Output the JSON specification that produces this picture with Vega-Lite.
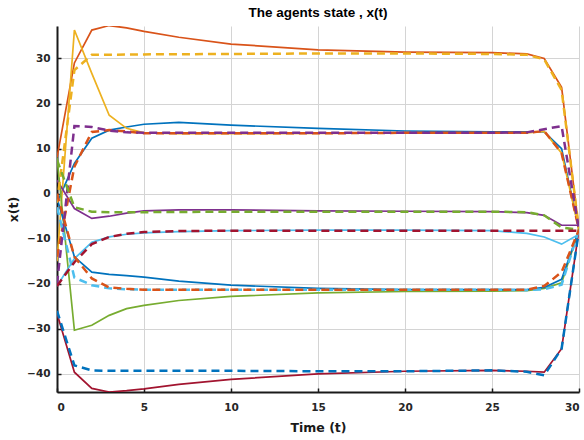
{
  "$schema": "https://vega.github.io/schema/vega-lite/v6.json",
  "width": 522,
  "height": 366,
  "autosize": {"type": "none"},
  "padding": {"left": 57, "top": 26, "right": 5, "bottom": 48},
  "background": "white",
  "title": {"text": "The agents state , x(t)", "fontSize": 13.5, "fontWeight": "bold", "font": "Liberation Sans", "color": "#000000", "offset": 7, "anchor": "middle"},
  "config": {
    "view": {"stroke": null},
    "axis": {"gridColor": "#d4d4d4", "gridWidth": 1, "domainColor": "#1a1a1a", "domainWidth": 2, "tickColor": "#1a1a1a", "tickSize": -4, "tickWidth": 1.5, "labelFont": "DejaVu Sans", "labelFontWeight": "bold", "labelFontSize": 10.5, "labelColor": "#262626", "titleFont": "DejaVu Sans", "titleFontSize": 12.5, "titleFontWeight": "bold", "titleColor": "#1a1a1a"}
  },
  "datasets": {
    "states": [
      {"s":"x1","t":0,"v":-2},{"s":"x1","t":1,"v":6.7},{"s":"x1","t":2,"v":12.3},{"s":"x1","t":3,"v":14.1},{"s":"x1","t":4,"v":14.8},{"s":"x1","t":5,"v":15.4},{"s":"x1","t":7,"v":15.8},{"s":"x1","t":10,"v":15.2},{"s":"x1","t":15,"v":14.5},{"s":"x1","t":20,"v":13.9},{"s":"x1","t":25,"v":13.7},{"s":"x1","t":27,"v":13.7},{"s":"x1","t":28,"v":13.7},{"s":"x1","t":29,"v":10},{"s":"x1","t":30,"v":-8},
      {"s":"x2","t":0,"v":8},{"s":"x2","t":1,"v":29},{"s":"x2","t":2,"v":36.3},{"s":"x2","t":3,"v":37.3},{"s":"x2","t":4,"v":36.8},{"s":"x2","t":5,"v":36},{"s":"x2","t":7,"v":34.7},{"s":"x2","t":10,"v":33.2},{"s":"x2","t":15,"v":31.9},{"s":"x2","t":20,"v":31.4},{"s":"x2","t":25,"v":31.3},{"s":"x2","t":27,"v":31},{"s":"x2","t":28,"v":30},{"s":"x2","t":29,"v":23.6},{"s":"x2","t":30,"v":-8},
      {"s":"x3","t":0,"v":-15},{"s":"x3","t":1,"v":36.3},{"s":"x3","t":2,"v":26.7},{"s":"x3","t":3,"v":17.4},{"s":"x3","t":4,"v":14.5},{"s":"x3","t":5,"v":13.5},{"s":"x3","t":7,"v":13.3},{"s":"x3","t":10,"v":13.3},{"s":"x3","t":15,"v":13.4},{"s":"x3","t":20,"v":13.5},{"s":"x3","t":25,"v":13.5},{"s":"x3","t":27,"v":13.5},{"s":"x3","t":28,"v":13.8},{"s":"x3","t":29,"v":9},{"s":"x3","t":30,"v":-8},
      {"s":"x4","t":0,"v":3},{"s":"x4","t":1,"v":-3.3},{"s":"x4","t":2,"v":-5.5},{"s":"x4","t":3,"v":-5},{"s":"x4","t":4,"v":-4.3},{"s":"x4","t":5,"v":-3.8},{"s":"x4","t":7,"v":-3.6},{"s":"x4","t":10,"v":-3.6},{"s":"x4","t":15,"v":-3.8},{"s":"x4","t":20,"v":-3.9},{"s":"x4","t":25,"v":-4},{"s":"x4","t":27,"v":-4.2},{"s":"x4","t":28,"v":-4.8},{"s":"x4","t":29,"v":-7},{"s":"x4","t":30,"v":-7},
      {"s":"x5","t":0,"v":8},{"s":"x5","t":1,"v":-30.3},{"s":"x5","t":2,"v":-29.2},{"s":"x5","t":3,"v":-27},{"s":"x5","t":4,"v":-25.5},{"s":"x5","t":5,"v":-24.8},{"s":"x5","t":7,"v":-23.7},{"s":"x5","t":10,"v":-22.8},{"s":"x5","t":15,"v":-22},{"s":"x5","t":20,"v":-21.7},{"s":"x5","t":25,"v":-21.6},{"s":"x5","t":27,"v":-21.5},{"s":"x5","t":28,"v":-21},{"s":"x5","t":29,"v":-19.8},{"s":"x5","t":30,"v":-8},
      {"s":"x6","t":0,"v":-20.5},{"s":"x6","t":1,"v":-14.4},{"s":"x6","t":2,"v":-10.8},{"s":"x6","t":3,"v":-9.6},{"s":"x6","t":4,"v":-9},{"s":"x6","t":5,"v":-8.7},{"s":"x6","t":7,"v":-8.4},{"s":"x6","t":10,"v":-8.2},{"s":"x6","t":15,"v":-8.1},{"s":"x6","t":20,"v":-8.1},{"s":"x6","t":25,"v":-8.2},{"s":"x6","t":27,"v":-8.8},{"s":"x6","t":28,"v":-9.6},{"s":"x6","t":29,"v":-11.2},{"s":"x6","t":30,"v":-9},
      {"s":"x7","t":0,"v":-26.6},{"s":"x7","t":1,"v":-39.6},{"s":"x7","t":2,"v":-43.2},{"s":"x7","t":3,"v":-44},{"s":"x7","t":4,"v":-43.7},{"s":"x7","t":5,"v":-43.3},{"s":"x7","t":7,"v":-42.3},{"s":"x7","t":10,"v":-41.2},{"s":"x7","t":15,"v":-40},{"s":"x7","t":20,"v":-39.4},{"s":"x7","t":25,"v":-39.2},{"s":"x7","t":27,"v":-39.4},{"s":"x7","t":28,"v":-39.6},{"s":"x7","t":29,"v":-34.4},{"s":"x7","t":30,"v":-8},
      {"s":"x8","t":0,"v":-1},{"s":"x8","t":1,"v":-14},{"s":"x8","t":2,"v":-17.4},{"s":"x8","t":3,"v":-17.9},{"s":"x8","t":4,"v":-18.2},{"s":"x8","t":5,"v":-18.5},{"s":"x8","t":7,"v":-19.4},{"s":"x8","t":10,"v":-20.3},{"s":"x8","t":15,"v":-21},{"s":"x8","t":20,"v":-21.3},{"s":"x8","t":25,"v":-21.3},{"s":"x8","t":27,"v":-21.3},{"s":"x8","t":28,"v":-20.8},{"s":"x8","t":29,"v":-19},{"s":"x8","t":30,"v":-8}
    ],
    "refs": [
      {"s":"r1","t":0,"v":-26},{"s":"r1","t":1,"v":-38.1},{"s":"r1","t":2,"v":-39.2},{"s":"r1","t":3,"v":-39.3},{"s":"r1","t":5,"v":-39.3},{"s":"r1","t":10,"v":-39.3},{"s":"r1","t":15,"v":-39.4},{"s":"r1","t":20,"v":-39.4},{"s":"r1","t":25,"v":-39.2},{"s":"r1","t":27,"v":-39.5},{"s":"r1","t":28,"v":-40.3},{"s":"r1","t":29,"v":-34.4},{"s":"r1","t":30,"v":-8},
      {"s":"r2","t":0,"v":-14},{"s":"r2","t":1,"v":6},{"s":"r2","t":2,"v":13.7},{"s":"r2","t":3,"v":14.1},{"s":"r2","t":4,"v":13.8},{"s":"r2","t":5,"v":13.4},{"s":"r2","t":10,"v":13.4},{"s":"r2","t":15,"v":13.4},{"s":"r2","t":20,"v":13.5},{"s":"r2","t":25,"v":13.5},{"s":"r2","t":27,"v":13.5},{"s":"r2","t":28,"v":13.9},{"s":"r2","t":29,"v":9},{"s":"r2","t":30,"v":-8},
      {"s":"r3","t":0,"v":-2},{"s":"r3","t":1,"v":27.4},{"s":"r3","t":2,"v":30.8},{"s":"r3","t":5,"v":30.9},{"s":"r3","t":10,"v":31},{"s":"r3","t":15,"v":31.1},{"s":"r3","t":20,"v":31.1},{"s":"r3","t":25,"v":31},{"s":"r3","t":27,"v":30.8},{"s":"r3","t":28,"v":29.8},{"s":"r3","t":29,"v":23},{"s":"r3","t":30,"v":-8},
      {"s":"r4","t":0,"v":-20},{"s":"r4","t":1,"v":15},{"s":"r4","t":2,"v":14.8},{"s":"r4","t":3,"v":14},{"s":"r4","t":4,"v":13.6},{"s":"r4","t":5,"v":13.5},{"s":"r4","t":10,"v":13.5},{"s":"r4","t":15,"v":13.5},{"s":"r4","t":20,"v":13.5},{"s":"r4","t":25,"v":13.5},{"s":"r4","t":27,"v":13.6},{"s":"r4","t":28,"v":14.3},{"s":"r4","t":29,"v":15},{"s":"r4","t":30,"v":-8},
      {"s":"r5","t":0,"v":7.5},{"s":"r5","t":1,"v":-3},{"s":"r5","t":2,"v":-4},{"s":"r5","t":3,"v":-4.1},{"s":"r5","t":5,"v":-4.1},{"s":"r5","t":10,"v":-4},{"s":"r5","t":15,"v":-4},{"s":"r5","t":20,"v":-4},{"s":"r5","t":25,"v":-4},{"s":"r5","t":27,"v":-4.1},{"s":"r5","t":28,"v":-4.8},{"s":"r5","t":29,"v":-7.5},{"s":"r5","t":30,"v":-8},
      {"s":"r6","t":0,"v":-3},{"s":"r6","t":1,"v":-18.6},{"s":"r6","t":2,"v":-20.3},{"s":"r6","t":3,"v":-21},{"s":"r6","t":4,"v":-21.2},{"s":"r6","t":5,"v":-21.3},{"s":"r6","t":10,"v":-21.3},{"s":"r6","t":15,"v":-21.3},{"s":"r6","t":20,"v":-21.3},{"s":"r6","t":25,"v":-21.3},{"s":"r6","t":27,"v":-21.4},{"s":"r6","t":28,"v":-21.2},{"s":"r6","t":29,"v":-20.2},{"s":"r6","t":30,"v":-8},
      {"s":"r7","t":0,"v":-20.5},{"s":"r7","t":1,"v":-15.2},{"s":"r7","t":2,"v":-11.2},{"s":"r7","t":3,"v":-9.6},{"s":"r7","t":4,"v":-8.9},{"s":"r7","t":5,"v":-8.5},{"s":"r7","t":7,"v":-8.3},{"s":"r7","t":10,"v":-8.2},{"s":"r7","t":15,"v":-8.2},{"s":"r7","t":20,"v":-8.2},{"s":"r7","t":25,"v":-8.2},{"s":"r7","t":27,"v":-8.2},{"s":"r7","t":28,"v":-8.2},{"s":"r7","t":29,"v":-8.2},{"s":"r7","t":30,"v":-8.2},
      {"s":"r8","t":0,"v":0},{"s":"r8","t":1,"v":-14},{"s":"r8","t":2,"v":-18.8},{"s":"r8","t":3,"v":-20.8},{"s":"r8","t":4,"v":-21.1},{"s":"r8","t":5,"v":-21.3},{"s":"r8","t":10,"v":-21.3},{"s":"r8","t":15,"v":-21.3},{"s":"r8","t":20,"v":-21.3},{"s":"r8","t":25,"v":-21.3},{"s":"r8","t":27,"v":-21.3},{"s":"r8","t":28,"v":-20.5},{"s":"r8","t":29,"v":-17.4},{"s":"r8","t":30,"v":-8}
    ]
  },
  "encoding": {
    "x": {"field": "t", "type": "quantitative", "scale": {"domain": [0, 30], "nice": false}, "axis": {"values": [0,5,10,15,20,25,30], "title": "Time (t)", "labelPadding": 14, "titlePadding": 9, "grid": true}},
    "y": {"field": "v", "type": "quantitative", "scale": {"domain": [-44, 37.2], "nice": false, "zero": false}, "axis": {"values": [-40,-30,-20,-10,0,10,20,30], "title": "x(t)", "labelPadding": 11, "titlePadding": 6, "grid": true}},
    "color": {"field": "s", "type": "nominal", "legend": null, "scale": {
      "domain": ["x1","x2","x3","x4","x5","x6","x7","x8","r1","r2","r3","r4","r5","r6","r7","r8"],
      "range": ["#0072BD","#D95319","#EDB120","#7E2F8E","#77AC30","#4DBEEE","#A2142F","#0072BD","#0072BD","#D95319","#EDB120","#7E2F8E","#77AC30","#4DBEEE","#A2142F","#D95319"]}}
  },
  "layer": [
    {"data": {"name": "states"}, "mark": {"type": "line", "strokeWidth": 1.7, "clip": true}},
    {"data": {"name": "refs"}, "mark": {"type": "line", "strokeWidth": 2.5, "strokeDash": [8, 5], "clip": true}}
  ]
}
